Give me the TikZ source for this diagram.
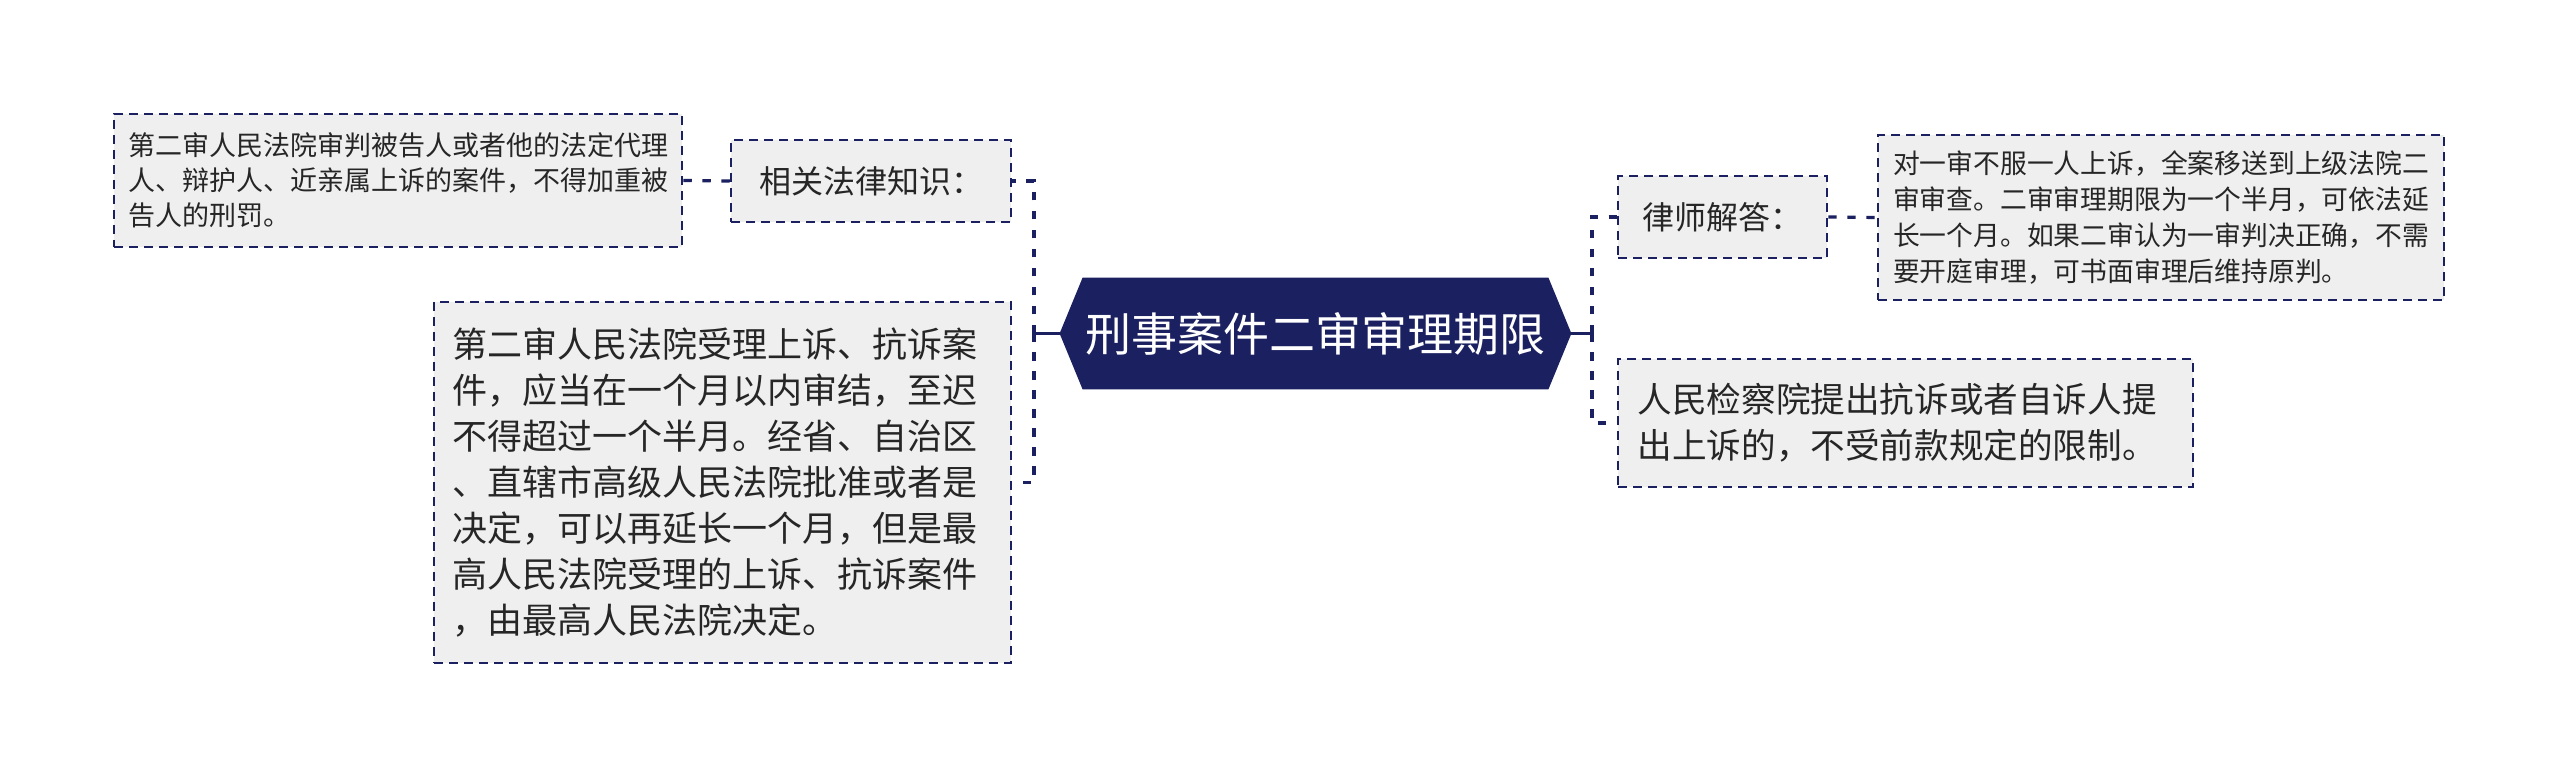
\documentclass[tikz,border=0pt]{standalone}
\usepackage{fontspec}
\setmainfont{Noto Sans CJK SC}
\usetikzlibrary{backgrounds}
\definecolor{navy}{HTML}{1A2060}
\definecolor{boxfill}{HTML}{EFEFEF}
\definecolor{txt}{HTML}{262626}
\tikzset{
  leafbox/.style={draw=navy, fill=boxfill, line width=1.25pt, dash pattern=on 4.5pt off 3pt,
    text=txt, inner ysep=0pt, align=left, anchor=center},
  midbox/.style={draw=navy, fill=boxfill, line width=1.25pt, dash pattern=on 4.5pt off 3pt,
    text=txt, inner sep=0pt, align=center, font=\fontsize{16}{20}\selectfont},
  solidconn/.style={draw=navy, line width=1.6pt},
  dashconn/.style={draw=navy, line width=1.6pt, dash pattern=on 4.2pt off 5.3pt},
}
\begin{document}
\begin{tikzpicture}[x=0.5pt,y=-0.5pt]
\useasboundingbox (0,0) rectangle (2560,779);
% center
\node[text=white, inner sep=0pt, minimum width=255.5pt, minimum height=55.5pt,
      font=\fontsize{23}{28}\selectfont] (c) at (1315.5,333.5) {刑事案件二审审理期限};
\begin{scope}[on background layer]
\fill[navy] ([xshift=11.5pt]c.north west) -- ([xshift=-11.5pt]c.north east) -- (c.east)
  -- ([xshift=-11.5pt]c.south east) -- ([xshift=11.5pt]c.south west) -- (c.west) -- cycle;
\end{scope}
% left side
\node[midbox, minimum width=140pt, minimum height=41pt] (rel) at (871,181) {相关法律知识：};
\node[leafbox, inner xsep=7pt, text width=270pt, minimum height=66.5pt,
      font=\fontsize{13.5}{17.5}\selectfont] (l1) at (398,180.5)
  {第二审人民法院审判被告人或者他的法定代理\\人、辩护人、近亲属上诉的案件，不得加重被\\告人的刑罚。};
\node[leafbox, inner xsep=9pt, text width=270.5pt, minimum height=180.5pt,
      font=\fontsize{17.5}{23}\selectfont] (l2) at (722.5,482.5)
  {第二审人民法院受理上诉、抗诉案\\件，应当在一个月以内审结，至迟\\不得超过一个半月。经省、自治区\\、直辖市高级人民法院批准或者是\\决定，可以再延长一个月，但是最\\高人民法院受理的上诉、抗诉案件\\，由最高人民法院决定。};
% right side
\node[midbox, minimum width=104.5pt, minimum height=41pt] (law) at (1722.5,217) {律师解答：};
\node[leafbox, inner xsep=7.5pt, text width=268pt, minimum height=82.5pt,
      font=\fontsize{13.4}{18}\selectfont] (r1) at (2161,217.5)
  {对一审不服一人上诉，全案移送到上级法院二\\审审查。二审审理期限为一个半月，可依法延\\长一个月。如果二审认为一审判决正确，不需\\要开庭审理，可书面审理后维持原判。};
\node[leafbox, inner xsep=9.8pt, text width=267.9pt, minimum height=64pt,
      font=\fontsize{17.3}{23}\selectfont] (r2) at (1905.5,423)
  {人民检察院提出抗诉或者自诉人提\\出上诉的，不受前款规定的限制。};
% connectors
\coordinate (jl) at (1034,333.5);
\coordinate (jr) at (1592,333.5);
\draw[solidconn] (c.west) -- (jl);
\draw[solidconn] (c.east) -- (jr);
\draw[solidconn] ([yshift=-3pt]jl) -- ([yshift=3pt]jl);
\draw[solidconn] ([yshift=-3pt]jr) -- ([yshift=3pt]jr);
\draw[dashconn] (jl) |- (rel.east);
\draw[dashconn] (jl) |- (l2.east);
\draw[dashconn] (rel.west) -- (l1.east);
\draw[dashconn] (jr) |- (law.west);
\draw[dashconn] (jr) |- (r2.west);
\draw[dashconn] (law.east) -- (r1.west);
\end{tikzpicture}
\end{document}
